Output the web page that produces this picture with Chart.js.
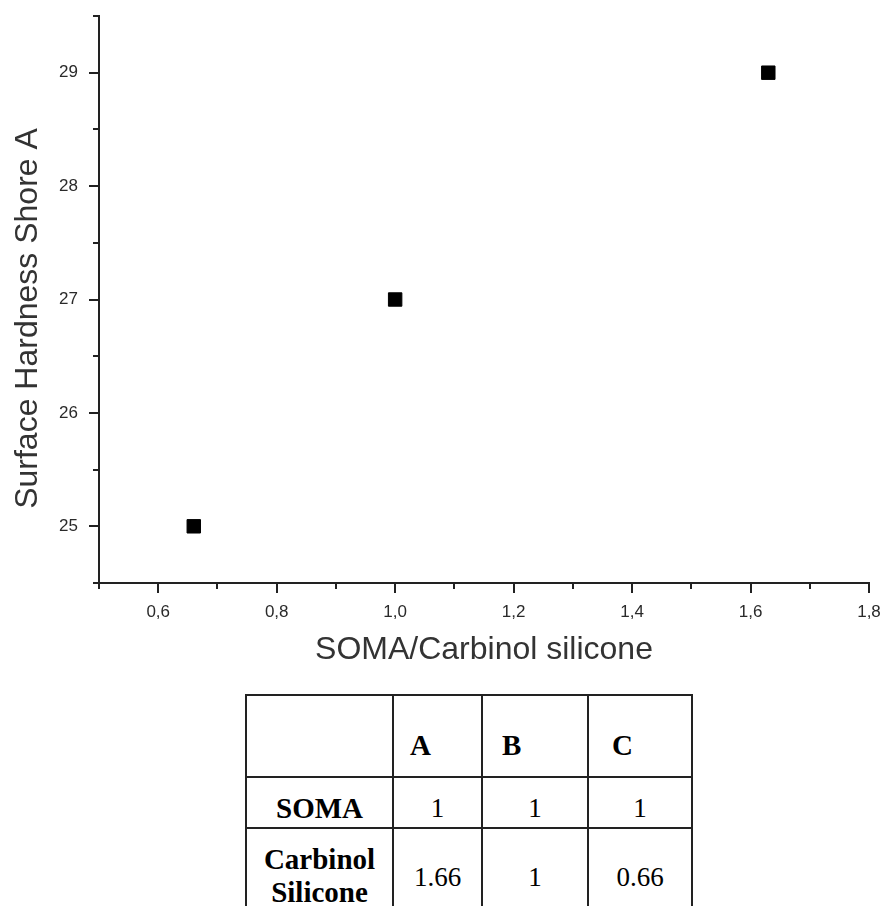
<!DOCTYPE html>
<html>
<head>
<meta charset="utf-8">
<script src="https://cdn.jsdelivr.net/npm/chart.js@4.4.1/dist/chart.umd.min.js"></script>
<style>
  html, body { margin: 0; padding: 0; background: #fff; width: 882px; height: 906px; overflow: hidden; }
  #plot { position: absolute; left: 0; top: 0; width: 882px; height: 680px; }
  table.mix {
    position: absolute; left: 245px; top: 694px;
    border-collapse: collapse;
    font-family: "Liberation Serif", "Times New Roman", serif;
    font-size: 27px; color: #000;
  }
  table.mix td { border: 2px solid #222; padding: 0; }
  table.mix td.head { font-weight: bold; font-size: 29px; text-align: left; vertical-align: middle; padding-top: 18px; }
  table.mix td.rowname { font-weight: bold; font-size: 29px; text-align: center; line-height: 33px; }
  table.mix td.num { text-align: center; }
</style>
</head>
<body>
<div id="plot"><canvas id="c"></canvas></div>

<table class="mix">
  <tr style="height:82px">
    <td style="width:145px"></td>
    <td class="head" style="width:71px; padding-left:16px">A</td>
    <td class="head" style="width:85px; padding-left:19px">B</td>
    <td class="head" style="width:79px; padding-left:23px">C</td>
  </tr>
  <tr style="height:51px">
    <td class="rowname" style="padding-top:11px">SOMA</td>
    <td class="num" style="padding-top:11px">1</td>
    <td class="num" style="padding-top:11px">1</td>
    <td class="num" style="padding-top:11px">1</td>
  </tr>
  <tr style="height:92px">
    <td class="rowname" style="vertical-align:top; padding-top:14px">Carbinol<br>Silicone</td>
    <td class="num" style="vertical-align:top; padding-top:33px">1.66</td>
    <td class="num" style="vertical-align:top; padding-top:33px">1</td>
    <td class="num" style="vertical-align:top; padding-top:33px">0.66</td>
  </tr>
</table>

<script>
// Measured samples: SOMA/Carbinol silicone ratio vs. Shore A surface hardness
const ratio = [0.66, 1.0, 1.63];
const hardness = [25, 27, 29];

// Axis ranges and tick positions
const xRange = [0.5, 1.8];
const yRange = [24.5, 29.5];
const xMajorTicks = [0.6, 0.8, 1.0, 1.2, 1.4, 1.6, 1.8];
const xMinorTicks = [0.5, 0.7, 0.9, 1.1, 1.3, 1.5, 1.7];
const yMajorTicks = [25, 26, 27, 28, 29];
const yMinorTicks = [24.5, 25.5, 26.5, 27.5, 28.5, 29.5];

const xTitle = 'SOMA/Carbinol silicone';
const yTitle = 'Surface Hardness Shore A';

const AXIS_COLOR = '#222';
const LABEL_COLOR = '#2a2a2a';
const TITLE_COLOR = '#333';
const SANS = '"Liberation Sans", Arial, sans-serif';

// Outward major/minor tick marks drawn from the scales' own pixel mapping
const tickMarks = {
  id: 'tickMarks',
  afterDraw(chart) {
    const { ctx, chartArea, scales } = chart;
    ctx.save();
    ctx.strokeStyle = AXIS_COLOR;
    ctx.lineWidth = 2;
    ctx.beginPath();
    const drawX = (vals, len) => vals.forEach(v => {
      const px = Math.round(scales.x.getPixelForValue(v));
      ctx.moveTo(px, chartArea.bottom);
      ctx.lineTo(px, chartArea.bottom + len);
    });
    const drawY = (vals, len) => vals.forEach(v => {
      const py = Math.round(scales.y.getPixelForValue(v));
      ctx.moveTo(chartArea.left, py);
      ctx.lineTo(chartArea.left - len, py);
    });
    drawX(xMajorTicks, 10);
    drawX(xMinorTicks, 6);
    drawY(yMajorTicks, 10);
    drawY(yMinorTicks, 6);
    ctx.stroke();
    ctx.restore();
  }
};

// Vertical axis title, set slightly below the axis midpoint
const yAxisTitle = {
  id: 'yAxisTitle',
  afterDraw(chart) {
    const { ctx, chartArea } = chart;
    const cy = (chartArea.top + chartArea.bottom) / 2 + 19;
    ctx.save();
    ctx.translate(37, cy);
    ctx.rotate(-Math.PI / 2);
    ctx.font = '32px ' + SANS;
    ctx.fillStyle = TITLE_COLOR;
    ctx.textAlign = 'center';
    ctx.textBaseline = 'alphabetic';
    ctx.fillText(yTitle, 0, 0);
    ctx.restore();
  }
};

new Chart(document.getElementById('c'), {
  type: 'scatter',
  data: {
    datasets: [{
      data: ratio.map((r, i) => ({ x: r, y: hardness[i] })),
      pointStyle: 'rect',
      pointRadius: 9.5,
      pointHoverRadius: 9.5,
      backgroundColor: '#000',
      borderColor: '#000',
      borderWidth: 1
    }]
  },
  options: {
    responsive: true,
    maintainAspectRatio: false,
    animation: false,
    layout: { padding: { top: 16, right: 13, left: 0, bottom: 0 } },
    plugins: { legend: { display: false }, tooltip: { enabled: false } },
    scales: {
      x: {
        type: 'linear',
        min: xRange[0], max: xRange[1],
        afterBuildTicks: s => { s.ticks = xMajorTicks.map(v => ({ value: v })); },
        afterFit: s => { s.height = 97; s.paddingLeft = 0; s.paddingRight = 0; },
        grid: { display: false },
        border: { display: true, color: AXIS_COLOR, width: 2 },
        ticks: {
          autoSkip: false, maxRotation: 0, padding: 11,
          color: LABEL_COLOR,
          font: { family: SANS, size: 17 },
          callback: v => Number(v).toFixed(1).replace('.', ',')
        },
        title: {
          display: true, text: xTitle, color: TITLE_COLOR,
          font: { family: SANS, size: 32 },
          padding: { top: 0, bottom: 11 }
        }
      },
      y: {
        type: 'linear',
        min: yRange[0], max: yRange[1],
        afterBuildTicks: s => { s.ticks = yMajorTicks.map(v => ({ value: v })); },
        afterFit: s => { s.width = 99; s.paddingTop = 0; s.paddingBottom = 0; },
        grid: { display: false },
        border: { display: true, color: AXIS_COLOR, width: 2 },
        ticks: {
          autoSkip: false, padding: 13,
          color: LABEL_COLOR,
          font: { family: SANS, size: 17 },
          callback: v => String(v)
        },
        title: { display: false }
      }
    }
  },
  plugins: [tickMarks, yAxisTitle]
});
</script>
</body>
</html>
